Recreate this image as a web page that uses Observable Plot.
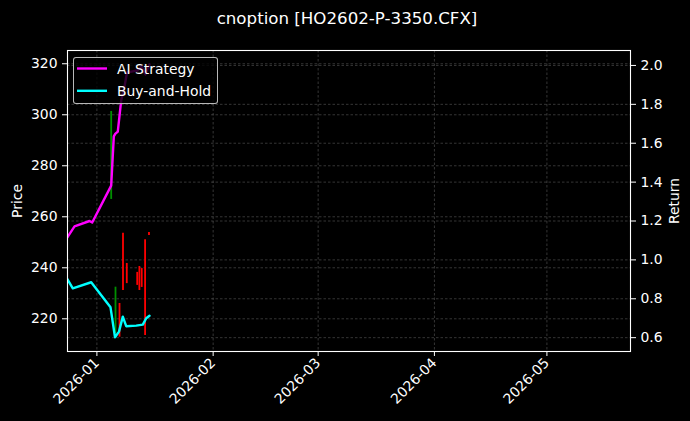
<!DOCTYPE html>
<html><head><meta charset="utf-8">
<script src="https://cdn.jsdelivr.net/npm/d3@7"></script>
<script src="https://cdn.jsdelivr.net/npm/@observablehq/plot@0.6"></script>
<style>
html,body{margin:0;padding:0;background:#000;}
#wrap{position:relative;width:690px;height:421px;background:#000;font-family:"DejaVu Sans",sans-serif;overflow:hidden;}
#legend{position:absolute;left:73px;top:57px;width:145px;height:47px;box-sizing:border-box;border:1px solid rgba(204,204,204,0.9);border-radius:3px;background:rgba(0,0,0,0.8);}
#legend svg{position:absolute;left:0;top:0;}
</style></head><body><div id="wrap"></div>
<script>
const title = "cnoption [HO2602-P-3350.CFX]";
const seriesNames = ["AI Strategy", "Buy-and-Hold"];
const seriesColors = ["#ff00ff", "#00ffff"];

// days after 2026-01-01 (UTC)
const aiDays   = [-7.92, -5.97, -1.97, -1.25, 3.81, 4.51, 4.88, 5.57, 6.48, 7.36, 8.03, 10.83, 11.89, 12.96, 14.03];
const aiReturn = [1.115, 1.172, 1.200, 1.192, 1.382, 1.635, 1.648, 1.660, 1.820, 1.892, 1.964, 1.974, 1.995, 1.954, 2.005];

const bhDays   = [-7.92, -6.43, -1.52, 3.63, 4.83, 5.89, 6.91, 7.81, 10.48, 12.24, 13.15, 14.03];
const bhReturn = [0.902, 0.854, 0.885, 0.756, 0.602, 0.631, 0.708, 0.659, 0.662, 0.667, 0.700, 0.713];

const candleDays = [3.81, 4.96, 6.03, 6.96, 7.97, 10.75, 11.33, 11.95, 12.85, 13.89];
const candleLow  = [266.8, 214.2, 212.8, 231.1, 233.8, 233.1, 231.1, 232.3, 213.5, 252.7];
const candleHigh = [301.3, 232.4, 226.0, 253.5, 241.7, 238.2, 240.5, 239.7, 251.0, 253.8];
const candleUp   = [true, true, false, false, false, false, false, false, false, false];

const priceTicks  = [220, 240, 260, 280, 300, 320];
const returnTicks = [0.6, 0.8, 1.0, 1.2, 1.4, 1.6, 1.8, 2.0];
const monthTicks  = ["2026-01-01", "2026-02-01", "2026-03-01", "2026-04-01", "2026-05-01"];
const xRangeDays  = [-7.84, 142.29];
const priceDomain = [207.18, 325.2];

const day0 = Date.UTC(2026, 0, 1);
const toDate = d => new Date(day0 + d * 864e5);
// return axis mapped onto price axis
const P1 = 243.10, K = 76.24;
const r2p = r => P1 + K * (r - 1);
const p2r = p => 1 + (p - P1) / K;

const ai = aiDays.map((d, i) => ({date: toDate(d), v: r2p(aiReturn[i])}));
const bh = bhDays.map((d, i) => ({date: toDate(d), v: r2p(bhReturn[i])}));
const candles = candleDays.map((d, i) => ({date: toDate(d), low: candleLow[i], high: candleHigh[i], up: candleUp[i]}));
const months = monthTicks.map(s => new Date(s + "T00:00:00Z"));

const grid = {stroke: "#ffffff", strokeOpacity: 0.35, strokeDasharray: "2.5,2", strokeWidth: 0.6};
const font = "DejaVu Sans";

const chart = Plot.plot({
  width: 690, height: 421,
  marginLeft: 67, marginRight: 60, marginTop: 50, marginBottom: 70,
  style: {background: "#000", color: "#fff", fontFamily: font, fontSize: "13.9px", overflow: "visible"},
  x: {type: "utc", domain: xRangeDays.map(toDate)},
  y: {domain: priceDomain},
  marks: [
    Plot.gridX(months, grid),
    Plot.gridY(priceTicks, grid),
    Plot.gridY(returnTicks.map(r2p), grid),
    Plot.ruleX(candles.filter(d => d.up), {x: "date", y1: "low", y2: "high", stroke: "#009000", strokeWidth: 1.8, clip: true}),
    Plot.ruleX(candles.filter(d => !d.up), {x: "date", y1: "low", y2: "high", stroke: "#ff0000", strokeWidth: 1.8, clip: true}),
    Plot.line(ai, {x: "date", y: "v", stroke: seriesColors[0], strokeWidth: 2.4, clip: true}),
    Plot.line(bh, {x: "date", y: "v", stroke: seriesColors[1], strokeWidth: 2.4, clip: true}),
    Plot.frame({stroke: "#fff", strokeWidth: 1.1}),
    Plot.axisX(months, {tickFormat: d3.utcFormat("%Y-%m"), tickRotate: -45, tickSize: 5, tickPadding: 4, label: null, fontSize: 13.9}),
    Plot.axisY(priceTicks, {anchor: "left", tickSize: 5, tickPadding: 5, label: "Price", labelAnchor: "center", labelArrow: "none", labelOffset: 55, fontSize: 13.9}),
    Plot.axisY(returnTicks.map(r2p), {anchor: "right", tickSize: 5, tickPadding: 5, tickFormat: p => p2r(p).toFixed(1), label: "Return", labelAnchor: "center", labelArrow: "none", labelOffset: 48, fontSize: 13.9}),
    Plot.text([title], {frameAnchor: "top", lineAnchor: "top", dx: -2, dy: -38, fontSize: 16.67, fill: "#fff"})
  ]
});

const wrap = document.getElementById("wrap");
wrap.appendChild(chart);

// legend
const lg = document.createElement("div");
lg.id = "legend";
const ns = "http://www.w3.org/2000/svg";
const svg = document.createElementNS(ns, "svg");
svg.setAttribute("width", 145); svg.setAttribute("height", 47);
seriesNames.forEach((name, i) => {
  const cy = 10.5 + i * 22.3;
  const ln = document.createElementNS(ns, "line");
  ln.setAttribute("x1", 3); ln.setAttribute("x2", 33);
  ln.setAttribute("y1", cy); ln.setAttribute("y2", cy);
  ln.setAttribute("stroke", seriesColors[i]); ln.setAttribute("stroke-width", 2.4);
  svg.appendChild(ln);
  const t = document.createElementNS(ns, "text");
  t.setAttribute("x", 43); t.setAttribute("y", cy + 5);
  t.setAttribute("fill", "#fff"); t.setAttribute("font-size", "13.9px");
  t.setAttribute("font-family", font);
  t.textContent = name;
  svg.appendChild(t);
});
lg.appendChild(svg);
wrap.appendChild(lg);
</script></body></html>
